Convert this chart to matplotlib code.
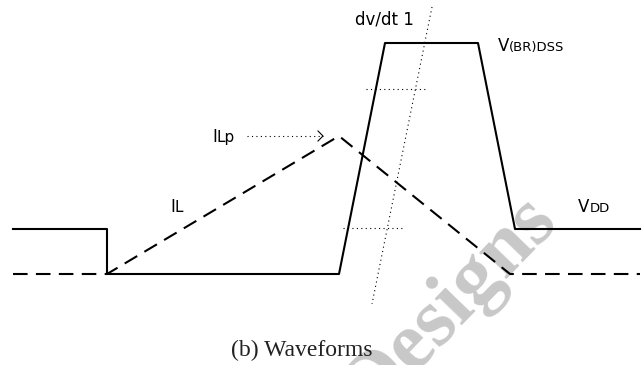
# Script to draw the avalanche test waveforms (b)

import matplotlib
matplotlib.use('Agg')
import matplotlib.pyplot as plt

# drain voltage waveform (solid)
v_t = [13, 107, 107, 339, 385, 478, 515, 640]
v_level = [229, 229, 274, 274, 43, 43, 229, 229]

# inductor current waveform (dashed)
i_t = [13, 107, 339, 510, 640]
i_level = [274, 274, 136, 274, 274]

# dv/dt construction lines (dotted)
slope_t = [432, 372]
slope_level = [7, 304]
upper_t = [366, 428]
upper_level = [89, 89]
lower_t = [343, 404]
lower_level = [228, 228]

# ILp pointer
arrow_t = [247, 323]
arrow_level = [136, 136]


def draw_label(ax, x, y, main, sub, main_size=12, sub_size=9.5):
    t = ax.text(x, y, main, fontsize=main_size, va='baseline', ha='left')
    fig = ax.figure
    fig.canvas.draw()
    bb = t.get_window_extent()
    inv = ax.transData.inverted()
    x2 = inv.transform((bb.x1, bb.y0))[0]
    ax.text(x2, y, sub, fontsize=sub_size, va='baseline', ha='left')


if __name__ == '__main__':
    fig = plt.figure(figsize=(6.44, 3.65), dpi=100)
    ax = fig.add_axes([0, 0, 1, 1])
    ax.set_xlim(0, 644)
    ax.set_ylim(365, 0)
    ax.axis('off')

    # watermark
    ax.text(452, 306, 'Designs', fontsize=59, fontweight='bold', family='Liberation Serif',
            color='#c8c8c8', rotation=46, ha='center', va='center', zorder=0,
            clip_on=True)

    ax.plot(v_t, v_level, color='#000000', lw=1.5, zorder=3)
    ax.plot(i_t, i_level, color='#000000', lw=1.5, dashes=(7, 4), zorder=3)

    dot = (0, (1, 3))
    ax.plot(slope_t, slope_level, color='#000000', lw=0.8, linestyle=dot, zorder=2)
    ax.plot(upper_t, upper_level, color='#000000', lw=0.8, linestyle=dot, zorder=2)
    ax.plot(lower_t, lower_level, color='#000000', lw=0.8, linestyle=dot, zorder=2)
    ax.plot(arrow_t, arrow_level, color='#000000', lw=0.8, linestyle=dot, zorder=2)
    tip = arrow_t[1]
    ax.plot([tip - 5, tip, tip - 5], [arrow_level[1] - 5, arrow_level[1], arrow_level[1] + 5],
            color='#000000', lw=0.8, zorder=2)

    ax.text(355, 25, 'dv/dt 1', fontsize=12, va='baseline', ha='left')
    draw_label(ax, 498, 51, 'V', '(BR)DSS')
    draw_label(ax, 578, 212, 'V', 'DD')
    draw_label(ax, 212, 142, 'I', 'Lp', main_size=12, sub_size=11)
    draw_label(ax, 170, 212, 'I', 'L', main_size=12, sub_size=11)

    ax.text(302, 356, '(b) Waveforms', fontsize=17, family='Liberation Serif',
            va='baseline', ha='center', color='#222222')

    fig.savefig('out.png', dpi=100)
